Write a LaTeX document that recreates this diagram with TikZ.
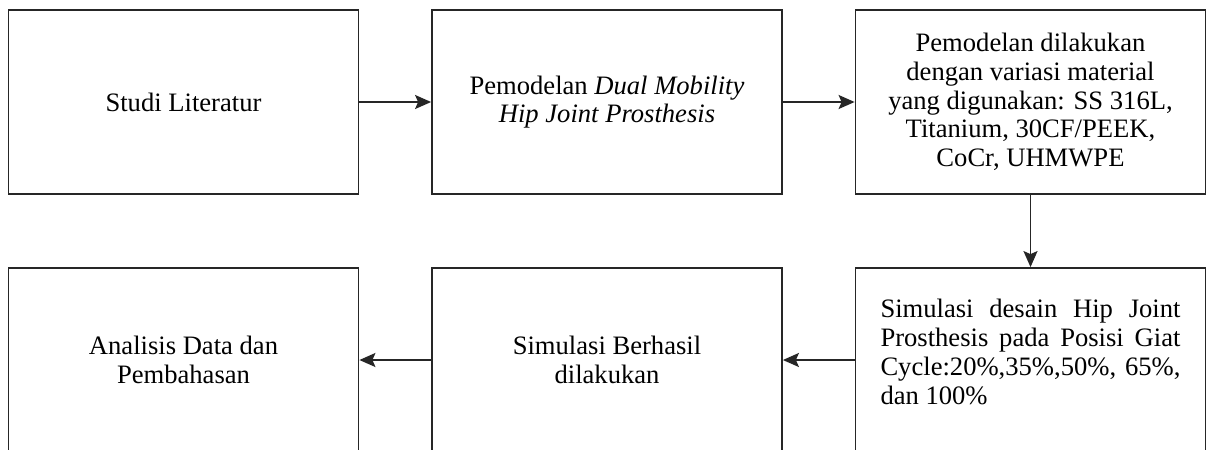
\documentclass[tikz,border=0pt]{standalone}
\usepackage{fontspec}
\setmainfont{Liberation Serif}
\usetikzlibrary{arrows.meta}

\newcommand{\jline}[1]{\makebox[150pt][s]{#1}}

\begin{document}
\begin{tikzpicture}[x=0.5pt, y=-0.5pt,
    stepbox/.style={draw=black!85, line width=0.9pt, minimum width=175pt, minimum height=92pt,
        align=center, inner sep=0pt, font=\fontsize{13.3}{14.4}\selectfont},
    flow/.style={draw=black!85, line width=0.9pt, -{Stealth[length=8pt, width=7pt, inset=1.5pt]}}]
            \useasboundingbox (0, 0) rectangle (1206, 450);
            \node[stepbox] (studi) at (183.5, 102) {Studi Literatur};
            \node[stepbox] (model) at (607, 102) {Pemodelan \textit{Dual Mobility}\\\textit{Hip Joint Prosthesis}};
            \node[stepbox] (material) at (1030.5, 102) {Pemodelan dilakukan\\dengan variasi material\\yang digunakan: SS 316L,\\Titanium, 30CF/PEEK,\\CoCr, UHMWPE};
            \node[stepbox] (sim) at (1030.5, 360) {\parbox{150pt}{\raggedright
                \jline{Simulasi desain Hip Joint}\\
                \jline{Prosthesis pada Posisi Giat}\\
                \jline{Cycle:20\%,35\%,50\%, 65\%,}\\
                dan 100\%}\\[7pt]};
            \node[stepbox] (hasil) at (607, 360) {Simulasi Berhasil\\dilakukan};
            \node[stepbox] (analisis) at (183.5, 360) {Analisis Data dan\\Pembahasan};
            \draw[flow] (studi) -- (model);
            \draw[flow] (model) -- (material);
            \draw[flow] (material) -- (sim);
            \draw[flow] (sim) -- (hasil);
            \draw[flow] (hasil) -- (analisis);
        \end{tikzpicture}
\end{document}
